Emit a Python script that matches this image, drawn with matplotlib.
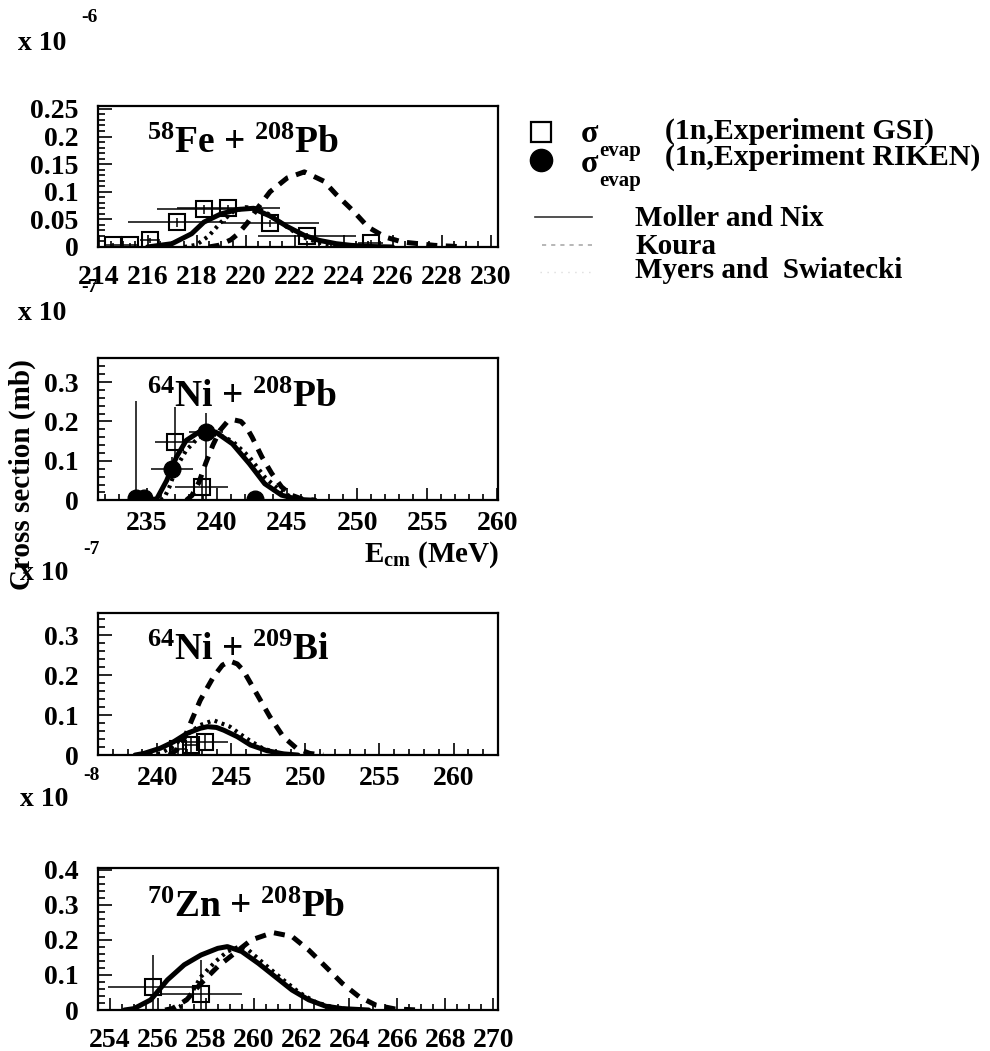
import numpy as np
import matplotlib
matplotlib.use('Agg')
import matplotlib.pyplot as plt
from matplotlib.ticker import MultipleLocator, AutoMinorLocator, FuncFormatter

plt.rcParams['font.family'] = ['Liberation Serif', 'DejaVu Serif']
plt.rcParams['font.weight'] = 'bold'
plt.rcParams['mathtext.fontset'] = 'custom'
plt.rcParams['mathtext.rm'] = 'Liberation Serif:bold'
plt.rcParams['mathtext.it'] = 'Liberation Serif:bold'
plt.rcParams['mathtext.bf'] = 'Liberation Serif:bold'

# ---- 58Fe + 208Pb (x 1e-6 mb) ----
fe_mn_e = [216.0, 217.0, 217.8, 218.3, 219.0, 219.7, 220.3, 221.0, 221.7, 222.4, 223.0, 223.7, 224.3, 225.0, 226.0]
fe_mn_s = [0.000, 0.006, 0.024, 0.045, 0.060, 0.068, 0.070, 0.056, 0.037, 0.021, 0.012, 0.006, 0.003, 0.001, 0.000]
fe_ms_e = [217.5, 218.0, 218.5, 219.0, 219.5, 220.0, 220.5, 221.0, 221.5, 222.0, 222.5, 223.0, 223.5, 224.0, 225.0]
fe_ms_s = [0.000, 0.004, 0.020, 0.045, 0.064, 0.072, 0.070, 0.058, 0.042, 0.027, 0.015, 0.008, 0.004, 0.001, 0.000]
fe_ko_e = [218.5, 218.9, 219.4, 219.7, 220.1, 220.5, 221.0, 221.7, 222.4, 223.2, 223.7, 224.4, 225.0, 225.7, 226.4, 227.7, 229.0]
fe_ko_s = [0.000, 0.003, 0.013, 0.024, 0.045, 0.071, 0.100, 0.125, 0.136, 0.119, 0.095, 0.065, 0.036, 0.018, 0.009, 0.003, 0.000]
fe_gsi_e = [214.6, 215.3, 216.1, 217.2, 218.3, 219.3, 221.0, 222.5, 225.1]
fe_gsi_s = [0.004, 0.004, 0.012, 0.045, 0.068, 0.070, 0.043, 0.020, 0.008]
fe_gsi_dex = [0.35, 0.35, 0.4, 2.0, 1.9, 2.1, 2.0, 2.0, 0.5]
fe_gsi_ds = [0.003, 0.003, 0.005, 0.008, 0.008, 0.006, 0.006, 0.006, 0.004]

# ---- 64Ni + 208Pb (x 1e-7 mb) ----
nipb_mn_e = [235.2, 235.7, 236.4, 237.1, 237.8, 238.7, 239.2, 239.9, 241.1, 242.3, 243.4, 244.6, 245.8, 247.0]
nipb_mn_s = [0.000, 0.004, 0.050, 0.110, 0.152, 0.173, 0.177, 0.173, 0.143, 0.093, 0.042, 0.013, 0.002, 0.000]
nipb_ms_e = [236.0, 236.2, 236.6, 237.1, 237.8, 238.7, 239.4, 240.2, 241.1, 242.3, 243.4, 244.6, 245.5, 246.5]
nipb_ms_s = [0.000, 0.004, 0.034, 0.084, 0.127, 0.160, 0.169, 0.165, 0.150, 0.110, 0.059, 0.021, 0.005, 0.000]
nipb_ko_e = [237.8, 238.2, 238.7, 239.2, 239.7, 240.2, 240.7, 241.2, 241.7, 242.1, 242.5, 243.2, 243.9, 244.6, 245.3, 246.0, 247.0]
nipb_ko_s = [0.000, 0.012, 0.045, 0.095, 0.140, 0.177, 0.198, 0.204, 0.200, 0.185, 0.160, 0.110, 0.068, 0.034, 0.013, 0.004, 0.000]
nipb_gsi_e = [237.0, 238.9]
nipb_gsi_s = [0.147, 0.034]
nipb_gsi_dex = [1.4, 1.9]
nipb_gsi_ds = [0.09, 0.03]
nipb_rik_e = [234.2, 234.8, 236.8, 239.2, 242.7]
nipb_rik_s = [0.005, 0.006, 0.080, 0.172, 0.003]
nipb_rik_dex = [0.4, 0.4, 1.5, 1.2, 0.4]
nipb_rik_lo = [0.005, 0.006, 0.030, 0.172, 0.003]
nipb_rik_hi = [0.248, 0.010, 0.030, 0.050, 0.008]

# ---- 64Ni + 209Bi (x 1e-7 mb) ----
nibi_mn_e = [238.5, 239.1, 240.2, 241.1, 242.0, 242.9, 243.4, 244.0, 244.5, 245.4, 246.3, 247.4, 248.5, 249.5]
nibi_mn_s = [0.000, 0.004, 0.017, 0.033, 0.054, 0.067, 0.071, 0.069, 0.062, 0.046, 0.025, 0.011, 0.003, 0.000]
nibi_ms_e = [239.5, 240.2, 241.0, 241.8, 242.9, 243.8, 244.9, 246.0, 247.1, 248.2, 249.2]
nibi_ms_s = [0.000, 0.004, 0.020, 0.046, 0.075, 0.087, 0.071, 0.042, 0.017, 0.004, 0.000]
nibi_ko_e = [240.8, 241.3, 241.8, 242.3, 242.9, 243.4, 243.8, 244.4, 244.9, 245.4, 245.8, 246.7, 247.6, 248.5, 249.4, 250.3, 251.2]
nibi_ko_s = [0.000, 0.012, 0.040, 0.085, 0.137, 0.170, 0.196, 0.225, 0.235, 0.228, 0.212, 0.154, 0.096, 0.046, 0.017, 0.004, 0.000]
nibi_gsi_e = [241.4, 242.3, 243.2]
nibi_gsi_s = [0.015, 0.025, 0.032]
nibi_gsi_dex = [0.5, 0.5, 1.6]
nibi_gsi_ds = [0.015, 0.02, 0.02]

# ---- 70Zn + 208Pb (x 1e-8 mb) ----
zn_mn_e = [254.6, 255.0, 255.7, 256.4, 257.1, 257.8, 258.5, 258.9, 259.5, 260.2, 260.9, 261.6, 262.3, 263.0, 263.7, 264.8]
zn_mn_s = [0.000, 0.004, 0.029, 0.086, 0.129, 0.157, 0.176, 0.181, 0.167, 0.133, 0.095, 0.057, 0.029, 0.011, 0.004, 0.000]
zn_ms_e = [256.6, 256.9, 257.4, 257.8, 258.4, 258.9, 259.4, 259.8, 260.5, 261.2, 261.9, 262.6, 263.4, 264.3]
zn_ms_s = [0.000, 0.008, 0.048, 0.095, 0.138, 0.167, 0.181, 0.170, 0.128, 0.088, 0.050, 0.022, 0.006, 0.000]
zn_ko_e = [256.3, 256.6, 257.2, 257.8, 258.5, 259.2, 259.9, 260.8, 261.6, 262.3, 263.0, 263.7, 264.4, 265.1, 265.9, 266.9]
zn_ko_s = [0.000, 0.004, 0.029, 0.076, 0.124, 0.162, 0.200, 0.221, 0.210, 0.171, 0.124, 0.076, 0.038, 0.014, 0.003, 0.000]
zn_gsi_e = [255.8, 257.8]
zn_gsi_s = [0.065, 0.045]
zn_gsi_dex = [1.9, 1.7]
zn_gsi_lo = [0.065, 0.045]
zn_gsi_hi = [0.092, 0.098]

panels = [
    dict(box=[0.099, 0.765, 0.404, 0.134], xlim=(213.98, 230.3), ylim=(0, 0.255),
         xmaj=2, xmin=4, ymaj=0.05, xpad=13, label=r'$^{58}$Fe + $^{208}$Pb', ly=0.665,
         mn=(fe_mn_e, fe_mn_s), ms=(fe_ms_e, fe_ms_s), ko=(fe_ko_e, fe_ko_s),
         gsi=(fe_gsi_e, fe_gsi_s, fe_gsi_dex, fe_gsi_ds), rik=None),
    dict(box=[0.099, 0.524, 0.404, 0.135], xlim=(231.5, 260.05), ylim=(0, 0.36),
         xmaj=5, xmin=5, ymaj=0.1, xpad=8, label=r'$^{64}$Ni + $^{208}$Pb', ly=0.655,
         mn=(nipb_mn_e, nipb_mn_s), ms=(nipb_ms_e, nipb_ms_s), ko=(nipb_ko_e, nipb_ko_s),
         gsi=(nipb_gsi_e, nipb_gsi_s, nipb_gsi_dex, nipb_gsi_ds),
         rik=(nipb_rik_e, nipb_rik_s, nipb_rik_dex, [nipb_rik_lo, nipb_rik_hi])),
    dict(box=[0.099, 0.2816, 0.404, 0.135], xlim=(236.0, 263.0), ylim=(0, 0.355),
         xmaj=5, xmin=5, ymaj=0.1, xpad=8, label=r'$^{64}$Ni + $^{209}$Bi', ly=0.67,
         mn=(nibi_mn_e, nibi_mn_s), ms=(nibi_ms_e, nibi_ms_s), ko=(nibi_ko_e, nibi_ko_s),
         gsi=(nibi_gsi_e, nibi_gsi_s, nibi_gsi_dex, nibi_gsi_ds), rik=None),
    dict(box=[0.099, 0.039, 0.404, 0.135], xlim=(253.5, 270.2), ylim=(0, 0.405),
         xmaj=2, xmin=4, ymaj=0.1, xpad=13, label=r'$^{70}$Zn + $^{208}$Pb', ly=0.655,
         mn=(zn_mn_e, zn_mn_s), ms=(zn_ms_e, zn_ms_s), ko=(zn_ko_e, zn_ko_s),
         gsi=(zn_gsi_e, zn_gsi_s, zn_gsi_dex, [zn_gsi_lo, zn_gsi_hi]), rik=None),
]


def ylab(v, pos):
    return '0' if abs(v) < 1e-9 else '%g' % round(v, 3)


fig = plt.figure(figsize=(9.9, 10.51), dpi=100)

for p in panels:
    ax = fig.add_axes(p['box'])
    ax.plot(*p['mn'], color='black', lw=3.6, solid_capstyle='round')
    ax.plot(*p['ms'], color='black', lw=3.0, ls=(0, (0.7, 1.1)))
    ax.plot(*p['ko'], color='black', lw=3.6, ls=(0, (2.2, 1.7)))
    e, s, dex, ds = p['gsi']
    ax.errorbar(e, s, xerr=dex, yerr=ds, fmt='s', mfc='none', mec='black', ms=11,
                mew=1.5, ecolor='black', elinewidth=1.1, capsize=0)
    if p['rik'] is not None:
        e, s, dex, ds = p['rik']
        ax.errorbar(e, s, xerr=dex, yerr=ds, fmt='o', color='black', ms=12,
                    ecolor='black', elinewidth=1.1, capsize=0)
    ax.set_xlim(*p['xlim'])
    ax.set_ylim(*p['ylim'])
    ax.xaxis.set_major_locator(MultipleLocator(p['xmaj']))
    ax.xaxis.set_minor_locator(AutoMinorLocator(p['xmin']))
    ax.yaxis.set_major_locator(MultipleLocator(p['ymaj']))
    ax.yaxis.set_minor_locator(AutoMinorLocator(5))
    ax.yaxis.set_major_formatter(FuncFormatter(ylab))
    ax.tick_params(axis='both', which='both', direction='in', top=False, right=False,
                   labelsize=20, width=1.2)
    ax.tick_params(axis='x', which='major', length=9, pad=p['xpad'])
    ax.tick_params(axis='x', which='minor', length=4.5)
    ax.tick_params(axis='y', which='major', length=10, pad=14)
    ax.tick_params(axis='y', which='minor', length=5)
    for lab in ax.get_xticklabels() + ax.get_yticklabels():
        lab.set_fontweight('bold')
    for sp in ax.spines.values():
        sp.set_linewidth(1.6)
    ax.text(0.1225, p['ly'], p['label'], transform=ax.transAxes, fontsize=27,
            fontweight='bold', va='baseline', ha='left')

# overlay in pixel coordinates for the shared labels and the key
ov = fig.add_axes([0, 0, 1, 1], zorder=5)
ov.set_xlim(0, 990)
ov.set_ylim(1051, 0)
ov.axis('off')

# scale factors
for xx, yy, ex in [(18, 43, '-6'), (18, 313, '-7'), (20, 574, '-7'), (20, 800, '-8')]:
    ov.text(xx, yy, 'x 10', fontsize=20, fontweight='bold', va='center', ha='left')
    ov.text(xx + 63, yy - 25, ex, fontsize=14, fontweight='bold', va='center', ha='left')

ov.text(22, 475, 'Cross section (mb)', rotation=90, fontsize=21, fontweight='bold',
        va='center', ha='center')
ov.text(499, 555, r'E$_{\mathrm{cm}}$ (MeV)', fontsize=21, fontweight='bold',
        va='center', ha='right')

# key
ov.plot([541], [132], marker='s', ms=15, mfc='white', mec='black', mew=1.6, ls='none')
ov.plot([541], [160], marker='o', ms=16, color='black', ls='none')
ov.text(581, 134, '\u03c3', fontsize=23, fontweight='bold', va='center', ha='left')
ov.text(599, 151, 'evap', fontsize=15, fontweight='bold', va='center', ha='left')
ov.text(581, 165, '\u03c3', fontsize=23, fontweight='bold', va='center', ha='left')
ov.text(599, 181, 'evap', fontsize=15, fontweight='bold', va='center', ha='left')
ov.text(665, 131, '(1n,Experiment GSI)', fontsize=21.5, fontweight='bold', va='center', ha='left')
ov.text(665, 157, '(1n,Experiment RIKEN)', fontsize=21.5, fontweight='bold', va='center', ha='left')
ov.plot([535, 592], [217, 217], color='#333333', lw=1.2)
ov.plot([542, 592], [245, 245], color='#aaaaaa', lw=1.2, ls=(0, (2.5, 3)))
ov.plot([540, 592], [272, 272], color='#dddddd', lw=1.0, ls=(0, (1, 4)))
ov.text(635, 218, 'Moller and Nix', fontsize=21, fontweight='bold', va='center', ha='left')
ov.text(635, 246, 'Koura', fontsize=21, fontweight='bold', va='center', ha='left')
ov.text(635, 271, 'Myers and  Swiatecki', fontsize=21, fontweight='bold', va='center', ha='left')

fig.savefig('out.png', dpi=100)
